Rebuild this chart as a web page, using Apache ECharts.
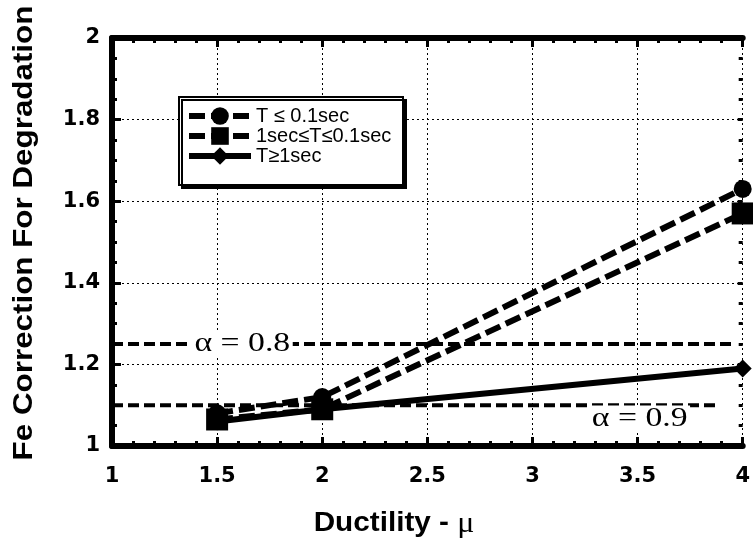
<!DOCTYPE html>
<html>
<head>
<meta charset="utf-8">
<script src="https://cdn.jsdelivr.net/npm/echarts@6/dist/echarts.min.js"></script>
<style>html,body{margin:0;padding:0;background:#fff;}#c{width:753px;height:544px;}</style>
</head>
<body>
<div id="c"></div>
<script>
// ---- data ----
var ductility = [1.5, 2, 4];
var seriesNames = ['T ≤ 0.1sec', '1sec≤T≤0.1sec', 'T≥1sec'];
var tShort = [1.08, 1.12, 1.63];
var tMid = [1.065, 1.09, 1.57];
var tLong = [1.06, 1.09, 1.19];
var alphaValues = [1.25, 1.10];
var alphaLineEndX = [3.95, 3.88];
var alphaLabels = ['α = 0.8', 'α = 0.9'];
var alphaLabelPos = [[1.62, 1.25], [3.51, 1.066]];
var xTicks = [1, 1.5, 2, 2.5, 3, 3.5, 4];
var yTicks = [1, 1.2, 1.4, 1.6, 1.8, 2];

function pairs(xs, ys) { return xs.map(function (x, i) { return [x, ys[i]]; }); }

var chart = echarts.init(document.getElementById('c'), null, {renderer: 'canvas'});
var black = '#000';
var tickLabelFont = 'DejaVu Sans';

function baseAxis(extra) {
  var a = {
    type: 'value',
    axisLine: {show: true, onZero: false, lineStyle: {color: black, width: 6}},
    axisTick: {show: true, inside: true, length: 9, lineStyle: {color: black, width: 3}},
    minorTick: {show: true, length: 5, lineStyle: {color: black, width: 3}},
    splitLine: {show: false},
    axisLabel: {show: false}
  };
  for (var k in extra) a[k] = extra[k];
  return a;
}

var option = {
  animation: false,
  backgroundColor: '#fff',
  grid: {left: 112, right: 0, top: 38, bottom: 98},
  xAxis: [
    baseAxis({
      min: 1, max: 4, interval: 0.5, position: 'bottom',
      minorTick: {show: true, splitNumber: 5, length: 5, lineStyle: {color: black, width: 3}},
      splitLine: {show: true, lineStyle: {color: black, width: 1, type: [2, 3]}},
      axisLabel: {show: true, margin: 20, color: black, fontFamily: tickLabelFont, fontWeight: 'bold', fontSize: 21,
        formatter: function (v) { return xTicks.indexOf(v) >= 0 ? String(v) : ''; }}
    }),
    baseAxis({
      min: 1, max: 4, interval: 0.5, position: 'top',
      minorTick: {show: true, splitNumber: 5, length: 5, lineStyle: {color: black, width: 3}}
    })
  ],
  yAxis: [
    baseAxis({
      min: 1, max: 2, interval: 0.2, position: 'left',
      minorTick: {show: true, splitNumber: 4, length: 5, lineStyle: {color: black, width: 3}},
      splitLine: {show: true, lineStyle: {color: black, width: 1, type: [2, 3]}},
      axisLabel: {show: true, margin: 12, color: black, fontFamily: tickLabelFont, fontWeight: 'bold', fontSize: 21,
        formatter: function (v) { return String(Math.round(v * 10) / 10); }}
    }),
    baseAxis({
      min: 1, max: 2, interval: 0.2, position: 'right',
      axisLine: {show: false},
      axisTick: {show: true, inside: true, length: 5, lineStyle: {color: black, width: 3}},
      minorTick: {show: true, splitNumber: 4, length: 4, lineStyle: {color: black, width: 3}}
    })
  ],
  legend: {
    orient: 'vertical', left: 186, top: 106,
    itemWidth: 62, itemHeight: 22, itemGap: 0,
    padding: 0,
    data: seriesNames,
    lineStyle: {width: 6},
    textStyle: {color: black, fontFamily: 'Liberation Sans', fontSize: 20}
  },
  series: [
    {type: 'line', name: 'alpha08', data: [[1, alphaValues[0]], [alphaLineEndX[0], alphaValues[0]]],
     symbol: 'none', z: 1, lineStyle: {color: black, width: 4, type: [11, 5]}, silent: true},
    {type: 'line', name: 'alpha09', data: [[1, alphaValues[1]], [alphaLineEndX[1], alphaValues[1]]],
     symbol: 'none', z: 1, lineStyle: {color: black, width: 4, type: [11, 5]}, silent: true},
    {type: 'line', name: seriesNames[0], data: pairs(ductility, tShort), z: 3,
     symbol: 'circle', symbolSize: 18, color: black,
     lineStyle: {color: black, width: 6, type: [16, 6]}, itemStyle: {color: black}},
    {type: 'line', name: seriesNames[1], data: pairs(ductility, tMid), z: 3,
     symbol: 'rect', symbolSize: 22, color: black,
     lineStyle: {color: black, width: 6, type: [16, 6]}, itemStyle: {color: black}},
    {type: 'line', name: seriesNames[2], data: pairs(ductility, tLong), z: 3,
     symbol: 'diamond', symbolSize: 18, color: black,
     lineStyle: {color: black, width: 6}, itemStyle: {color: black}}
  ]
};
chart.setOption(option);

// graphics: legend frame, axis titles, alpha labels (positioned through the axes)
var graphics = [
  {type: 'rect', z: 3, shape: {x: 179, y: 97, width: 224, height: 88},
   style: {fill: '#fff', stroke: black, lineWidth: 2, shadowColor: black, shadowOffsetX: 3, shadowOffsetY: 3, shadowBlur: 0}},
  {type: 'text', z: 5, x: 24, y: 233, rotation: Math.PI / 2, scaleX: 1.12,
   style: {text: 'Fe Correction For Degradation', font: 'bold 28px "Liberation Sans"', fill: black,
     textAlign: 'center', textVerticalAlign: 'middle'}},
  {type: 'text', z: 5, x: 394, y: 524, scaleX: 1.1,
   style: {text: '{a|Ductility - }{b|μ}', fill: black, textAlign: 'center', textVerticalAlign: 'middle',
     rich: {a: {fontFamily: 'Liberation Sans', fontWeight: 'bold', fontSize: 27, fill: black},
            b: {fontFamily: 'Liberation Serif', fontSize: 29, fill: black}}}}
];
alphaLabelPos.forEach(function (p, i) {
  var px = chart.convertToPixel({gridIndex: 0}, p);
  graphics.push({type: 'text', z: 2, x: px[0], y: px[1], scaleX: 1.25,
    style: {text: alphaLabels[i], font: '27px "Liberation Serif"', fill: black,
      backgroundColor: '#fff', padding: [0, 2],
      textAlign: 'center', textVerticalAlign: 'middle'}});
});
chart.setOption({graphic: graphics});
</script>
</body>
</html>
